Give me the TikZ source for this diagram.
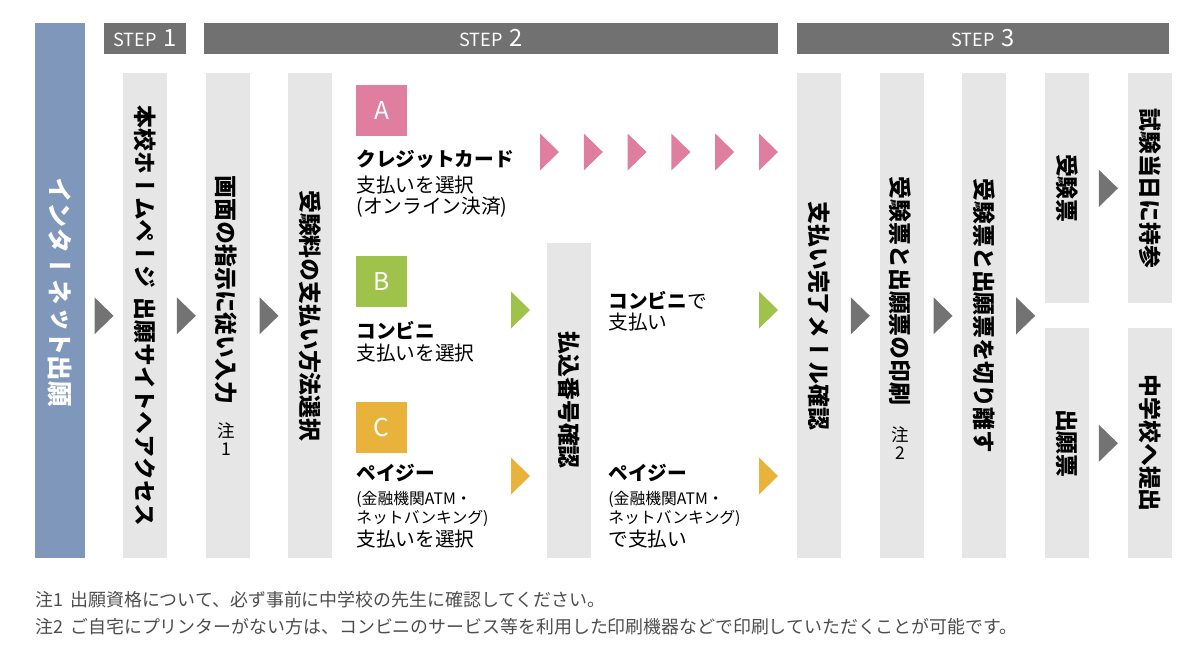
\documentclass[tikz,border=0pt]{standalone}
\usepackage{fontspec}
\setmainfont{Noto Sans CJK JP}
\newfontfamily\tatefont[Vertical=RotatedGlyphs]{Noto Sans CJK JP}
\usetikzlibrary{positioning}
\usetikzlibrary{calc}

\definecolor{netblue}{HTML}{7F97BA}
\definecolor{stepgray}{HTML}{717171}
\definecolor{colgray}{HTML}{E6E6E6}
\definecolor{arrowgray}{HTML}{737373}
\definecolor{cardpink}{HTML}{E07E9F}
\definecolor{storegreen}{HTML}{9FC24B}
\definecolor{payyellow}{HTML}{E9B23A}
\definecolor{notegray}{HTML}{4D4D4D}

\newcommand{\fsz}[1]{\fontsize{#1}{#1}\selectfont}

\tikzset{
  % gray flow column
  column/.style = {
    fill = colgray,
    minimum width = 0.88cm,
    inner sep = 0
  },
  stepbar/.style = {
    fill = stepgray,
    text = white,
    minimum height = 0.62cm,
    inner sep = 0,
    font = \fsz{10.3}
  },
  letterbox/.style = {
    minimum size = 1.02cm,
    inner sep = 0,
    text = white,
    font = \fsz{14}
  },
  % text set top to bottom
  vtext/.style = {
    rotate = -90,
    inner sep = 0,
    font = \tatefont\bfseries\fsz{13}
  },
  htext/.style = {
    anchor = west,
    inner sep = 0,
    font = \fsz{11.2}
  },
  htitle/.style = {
    htext,
    font = \bfseries\fsz{11.2}
  },
  hsmall/.style = {
    htext,
    font = \fsz{9}
  },
  notemark/.style = {
    inner sep = 0,
    align = center,
    font = \fsz{10}
  },
  footnote/.style = {
    anchor = west,
    inner sep = 0,
    text = notegray,
    font = \fsz{10.2}
  },
  % arrow head between the steps
  pics/tri/.style = {
    code = {\fill[#1] (-9.5,-18.5) -- (9.5,0) -- (-9.5,18.5) -- cycle;}
  }
}

\begin{document}
\begin{tikzpicture}[x=0.02cm, y=-0.02cm]
    \useasboundingbox (0,0) rectangle (1200,663);

    % step bars
    \node[stepbar, minimum width=1.64cm] (step1) at (145,38.5) {STEP\hspace{0.35em}{\fsz{13.5}1}};
    \node[stepbar, minimum width=11.48cm] (step2) at (491,38.5) {STEP\hspace{0.35em}{\fsz{13.5}2}};
    \node[stepbar, minimum width=7.44cm] (step3) at (983,38.5) {STEP\hspace{0.35em}{\fsz{13.5}3}};

    % columns
    \node[fill=netblue, minimum width=1cm, minimum height=10.7cm, inner sep=0, anchor=north] (net) at (60,23) {};
    \node[column, minimum height=9.7cm, anchor=north] (home) at (145,73) {};
    \node[column, minimum height=9.7cm, right=0.76cm of home] (input) {};
    \node[column, minimum height=9.7cm, right=0.76cm of input] (method) {};
    \node[column, minimum height=6.3cm, anchor=south] (number) at (569,558) {};
    \node[column, minimum height=9.7cm, anchor=north] (mail) at (819,73) {};
    \node[column, minimum height=9.7cm, right=0.76cm of mail] (print) {};
    \node[column, minimum height=9.7cm, right=0.76cm of print] (cut) {};
    \node[column, minimum height=4.6cm, anchor=north west] (ticket) at ($(cut.north east)+(38,0)$) {};
    \node[column, minimum height=4.6cm, right=0.76cm of ticket] (exam) {};
    \node[column, minimum height=4.6cm, anchor=south west] (form) at ($(cut.south east)+(38,0)$) {};
    \node[column, minimum height=4.6cm, right=0.76cm of form] (submit) {};

    % column texts
    \node[vtext, text=white, font=\tatefont\bfseries\fsz{14.5}] (nettext) at (60,292) {インターネット出願};
    \node[vtext] (hometext) at (home) {本校ホームページ\hspace{0.4em}出願サイトへアクセス};
    \node[vtext] (inputtext) at (226,290) {画面の指示に従い入力};
    \node[notemark] (inputnote) at (226,439) {注\\1};
    \node[vtext] (methodtext) at (method) {受験料の支払い方法選択};
    \node[vtext] (numbertext) at (number) {払込番号確認};
    \node[vtext] (mailtext) at (mail) {支払い完了メール確認};
    \node[vtext] (printtext) at (900,291) {受験票と出願票の印刷};
    \node[notemark] (printnote) at (900,443) {注\\2};
    \node[vtext] (cuttext) at (cut) {受験票と出願票を切り離す};
    \node[vtext] (tickettext) at (ticket) {受験票};
    \node[vtext] (examtext) at (exam) {試験当日に持参};
    \node[vtext] (formtext) at (form) {出願票};
    \node[vtext] (submittext) at (submit) {中学校へ提出};

    % payment choices
    \node[letterbox, fill=cardpink] (boxA) at (381.5,110.5) {A};
    \node[letterbox, fill=storegreen] (boxB) at (381.5,281.5) {B};
    \node[letterbox, fill=payyellow] (boxC) at (381.5,427.5) {C};

    \node[htitle] (cardtitle) at (356,159) {クレジットカード};
    \node[htext] (cardselect) at (356,185) {支払いを選択};
    \node[htext] (cardonline) at (356,207) {(オンライン決済)};

    \node[htitle] (storetitle) at (356,330) {コンビニ};
    \node[htext] (storeselect) at (356,353) {支払いを選択};

    \node[htitle] (payeasytitle) at (356,473) {ペイジー};
    \node[hsmall] (payeasyatm) at (356,499) {(金融機関ATM・};
    \node[hsmall] (payeasynet) at (356,518) {ネットバンキング)};
    \node[htext] (payeasyselect) at (356,539) {支払いを選択};

    \node[htext] (storepay) at (608,300) {\textbf{コンビニ}で};
    \node[htext] (storepaid) at (608,322) {支払い};

    \node[htitle] (payeasypay) at (608,473) {ペイジー};
    \node[hsmall] (payeasypayatm) at (608,499) {(金融機関ATM・};
    \node[hsmall] (payeasypaynet) at (608,518) {ネットバンキング)};
    \node[htext] (payeasypaid) at (608,539) {で支払い};

    % arrows
    \pic at ($(net.east |- home.west)!.5!(home.west)$) {tri=arrowgray};
    \pic at ($(home.east)!.5!(input.west)$) {tri=arrowgray};
    \pic at ($(input.east)!.5!(method.west)$) {tri=arrowgray};
    \pic at ($(mail.east)!.5!(print.west)$) {tri=arrowgray};
    \pic at ($(print.east)!.5!(cut.west)$) {tri=arrowgray};
    \pic at ($(cut.east)!.5!(cut.east -| ticket.west)$) {tri=arrowgray};
    \pic at ($(ticket.east)!.5!(exam.west)$) {tri=arrowgray};
    \pic at ($(form.east)!.5!(submit.west)$) {tri=arrowgray};

    \foreach \i in {0,...,5}
      \pic at (549.5+43.8*\i,152) {tri=cardpink};
    \pic at (520.5,310) {tri=storegreen};
    \pic at (768.5,310) {tri=storegreen};
    \pic at (520.5,476) {tri=payyellow};
    \pic at (768.5,476) {tri=payyellow};

    % notes
    \node[footnote] (note1) at (35,600) {注1\hspace{0.4em}出願資格について、必ず事前に中学校の先生に確認してください。};
    \node[footnote] (note2) at (35,627) {注2\hspace{0.4em}ご自宅にプリンターがない方は、コンビニのサービス等を利用した印刷機器などで印刷していただくことが可能です。};
  \end{tikzpicture}
\end{document}
